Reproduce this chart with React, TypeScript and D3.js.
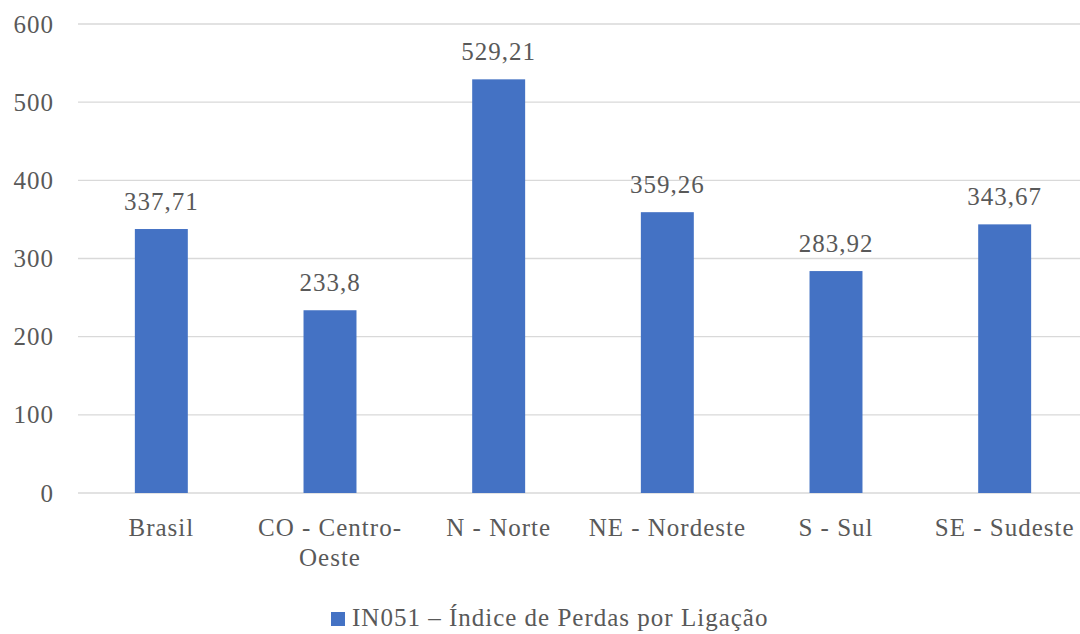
import React, { useEffect, useRef } from "react";
import * as d3 from "d3";

// chart data
const categories = ["Brasil", "CO - Centro-Oeste", "N - Norte", "NE - Nordeste", "S - Sul", "SE - Sudeste"];
const labelLines = [["Brasil"], ["CO - Centro-", "Oeste"], ["N - Norte"], ["NE - Nordeste"], ["S - Sul"], ["SE - Sudeste"]];
const values = [337.71, 233.8, 529.21, 359.26, 283.92, 343.67];
const valueLabels = ["337,71", "233,8", "529,21", "359,26", "283,92", "343,67"];
const yTicks = [0, 100, 200, 300, 400, 500, 600];
const seriesName = "IN051 \u2013 \u00CDndice de Perdas por Liga\u00E7\u00E3o";

const W = 1080, H = 634;
const textColor = "#595959";
const barColor = "#4472C4";

export default function App() {
  const ref = useRef<SVGSVGElement>(null);

  useEffect(() => {
    const svg = d3.select(ref.current);
    svg.selectAll("*").remove();

    const x = d3.scaleBand<string>().domain(categories).range([77, 1089]);
    const y = d3.scaleLinear().domain([0, 600]).range([493, 24]);
    const barW = x.bandwidth() * 0.314;
    const cx = (c: string) => (x(c) as number) + x.bandwidth() / 2;

    const label = (sel: any) =>
      sel.attr("fill", textColor)
        .attr("font-size", 25)
        .style("font-family", '"Liberation Serif"')
        .style("letter-spacing", "1px");

    // gridlines + y tick labels
    const grid = svg.append("g").selectAll("g").data(yTicks).enter().append("g");
    grid.append("line")
      .attr("x1", 78).attr("x2", W)
      .attr("y1", d => y(d)).attr("y2", d => y(d))
      .attr("stroke", "#d9d9d9").attr("stroke-width", 1.3);
    grid.append("text")
      .attr("x", 54).attr("y", d => y(d)).attr("dy", "0.34em")
      .attr("text-anchor", "end")
      .call(label)
      .text(d => d);

    // bars
    svg.append("g").selectAll("rect").data(categories).enter().append("rect")
      .attr("x", d => cx(d) - barW / 2)
      .attr("y", (d, i) => y(values[i]))
      .attr("width", barW)
      .attr("height", (d, i) => y(0) - y(values[i]))
      .attr("fill", barColor);

    // value labels
    svg.append("g").selectAll("text").data(categories).enter().append("text")
      .attr("x", d => cx(d))
      .attr("y", (d, i) => y(values[i]) - 19)
      .attr("text-anchor", "middle")
      .call(label)
      .text((d, i) => valueLabels[i]);

    // category labels
    categories.forEach((c, i) => {
      labelLines[i].forEach((l, j) => {
        svg.append("text")
          .attr("x", cx(c)).attr("y", 536 + j * 29.5)
          .attr("text-anchor", "middle")
          .call(label)
          .text(l);
      });
    });

    // legend
    svg.append("rect").attr("x", 331).attr("y", 612).attr("width", 14).attr("height", 14).attr("fill", barColor);
    svg.append("text").attr("x", 352).attr("y", 626).call(label).text(seriesName);
  }, []);

  return <svg ref={ref} width={W} height={H} style={{ position: "absolute", left: 0, top: 0, background: "#fff" }} />;
}
